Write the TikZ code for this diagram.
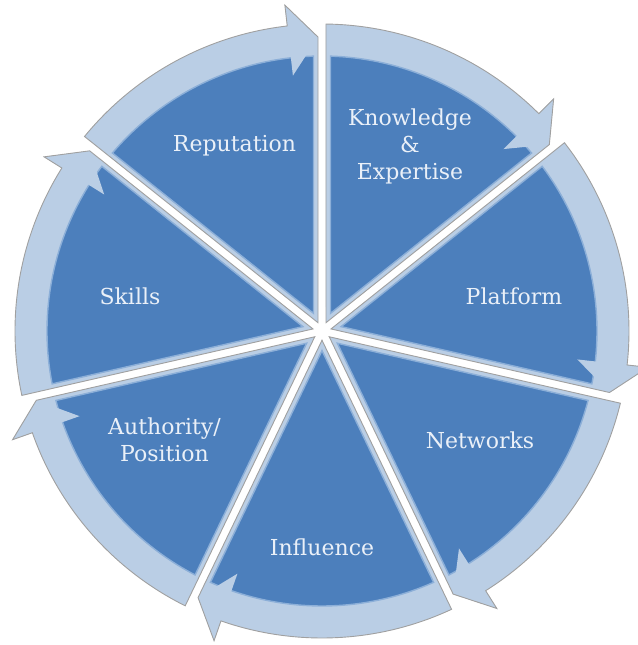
\documentclass[tikz,border=0pt]{standalone}
\usepackage{fontspec}
\setmainfont{DejaVu Serif}
\definecolor{pieblue}{RGB}{76,127,188}
\definecolor{bandblue}{RGB}{186,206,229}
\definecolor{edgegray}{RGB}{160,160,160}
\definecolor{glow}{RGB}{140,175,216}
\definecolor{labeltext}{RGB}{234,240,248}
\begin{document}
\begin{tikzpicture}[x=1pt,y=1pt,
  bandfill/.style={fill=bandblue},
  outline/.style={draw=edgegray,line width=0.9pt,line join=miter},
  slicefill/.style={fill=pieblue,draw=glow,line width=1.4pt},
  lbl/.style={text=labeltext,font=\fontsize{22}{27}\selectfont,align=center,inner sep=0pt}]
\useasboundingbox (-322,-314) rectangle (315,331);
\def\g{4}
\def\gs{8.5}
\def\ro{307}
\def\rs{275}
\def\rt{294}
\def\rbo{328}
\def\rbi{257}
\def\hb{6.5}
\foreach \i in {0,...,6}{
  \pgfmathsetmacro{\B}{90-51.428571*\i}
  \pgfmathsetmacro{\A}{\B+51.428571}
  \pgfmathsetmacro{\M}{\B+25.714286}
  \pgfmathsetmacro{\pz}{\g/sin(25.714286)}
  \pgfmathsetmacro{\ps}{\gs/sin(25.714286)}
  \pgfmathsetmacro{\As}{\A-asin(\g/\ro)}
  \pgfmathsetmacro{\Bt}{\B+asin(\g/\rt)}
  \pgfmathsetmacro{\H}{\B+\hb}
  \pgfmathsetmacro{\Ass}{\A-asin(\gs/\rs)}
  \pgfmathsetmacro{\Bss}{\B+asin(\gs/\rs)}
  % light segment (band + slice area + outer half of head)
  \path[bandfill] (\M:\pz) -- (\As:\ro) arc[start angle=\As, end angle=\H, radius=\ro]
     -- (\H:\rbo) -- (\Bt:\rt) -- cycle;
  % dark blue slice
  \path[slicefill] (\M:\ps) -- (\Ass:\rs) arc[start angle=\Ass, end angle=\Bss, radius=\rs] -- cycle;
  % arrow head
  \path[bandfill] (\Bt:\rt) -- (\H:\rbo) -- (\H:\rbi) -- cycle;
  % outline
  \path[outline] (\M:\pz) -- (\As:\ro) arc[start angle=\As, end angle=\H, radius=\ro]
     -- (\H:\rbo) -- (\Bt:\rt) -- cycle;
}
\node[lbl,anchor=base] (rep) at (-87.5,179) {Reputation};
\node[lbl,anchor=base] (know) at (88,151.5) {Knowledge\\\&\\Expertise};
\node[lbl,anchor=base] (plat) at (192,26.5) {Platform};
\node[lbl,anchor=base] (net) at (158,-117.5) {Networks};
\node[lbl,anchor=base] (infl) at (0,-224.5) {Influence};
\node[lbl,anchor=base] (auth) at (-157.5,-130.5) {Authority/\\Position};
\node[lbl,anchor=base] (skills) at (-192,26.5) {Skills};
\end{tikzpicture}
\end{document}
